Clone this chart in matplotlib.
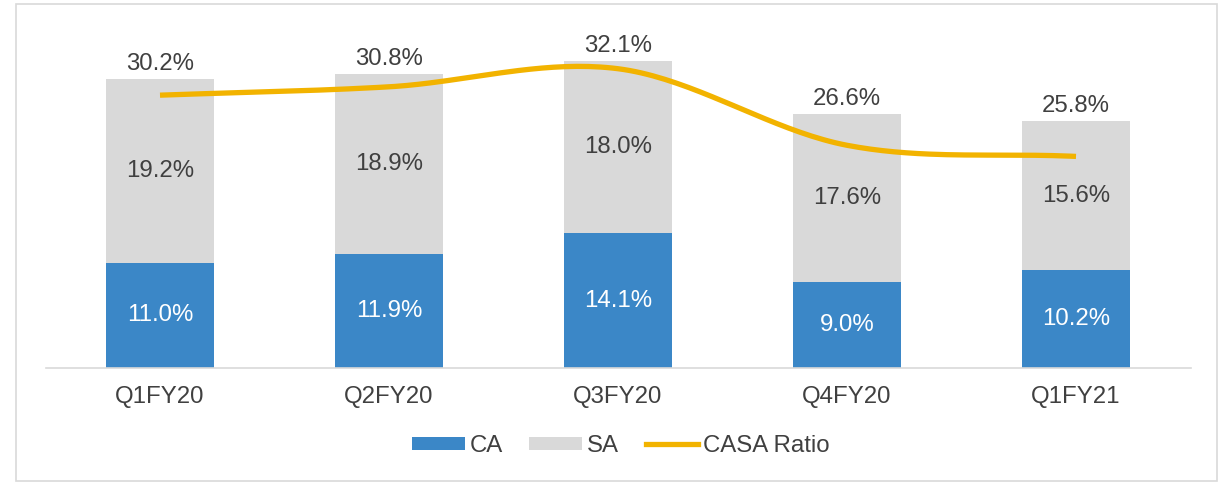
import matplotlib
matplotlib.use("Agg")
import matplotlib.pyplot as plt
import numpy as np
from matplotlib.patches import Rectangle, Patch
from matplotlib.lines import Line2D

categories = ["Q1FY20", "Q2FY20", "Q3FY20", "Q4FY20", "Q1FY21"]
ca = [11.0, 11.9, 14.1, 9.0, 10.2]
sa = [19.2, 18.9, 18.0, 17.6, 15.6]
casa = [30.2, 30.8, 32.1, 26.6, 25.8]

BLUE = "#3B87C7"
GRAY = "#D9D9D9"
GOLD = "#F2B300"
TXT = "#404040"

plt.rcParams["font.family"] = ["Liberation Sans", "DejaVu Sans"]
FS = 17.3

fig = plt.figure(figsize=(12.25, 4.83), dpi=100)
W, H = 1225, 483
# border
fig.patches.append(Rectangle((16 / W, 1 - 481 / H), (1217 - 16) / W, (481 - 4) / H,
                             transform=fig.transFigure, fill=False,
                             edgecolor="#D9D9D9", linewidth=1.2))

left, right, top, bottom = 45.5, 1190.5, 20, 368
ax = fig.add_axes([left / W, 1 - bottom / H, (right - left) / W, (bottom - top) / H])
x = np.arange(len(categories))
bw = 0.47
ax.bar(x, ca, bw, color=BLUE, zorder=2)
ax.bar(x, sa, bw, bottom=ca, color=GRAY, zorder=2)
ax.set_xlim(-0.5, len(categories) - 0.5)
ax.set_ylim(0, 36.4)
for s in ["top", "right", "left"]:
    ax.spines[s].set_visible(False)
ax.spines["bottom"].set_color("#D9D9D9")
ax.spines["bottom"].set_linewidth(1.2)
ax.set_yticks([])
ax.set_xticks(x)
ax.set_xticklabels(categories, fontsize=FS, color=TXT)
ax.tick_params(axis="x", length=0, pad=13)

for i in range(len(categories)):
    ax.text(x[i], ca[i] / 2, f"{ca[i]:.1f}%", ha="center", va="center",
            color="white", fontsize=FS, zorder=4)
    ax.text(x[i], ca[i] + sa[i] / 2, f"{sa[i]:.1f}%", ha="center", va="center",
            color=TXT, fontsize=FS, zorder=4)
    ax.annotate(f"{casa[i]:.1f}%", (x[i], ca[i] + sa[i]), xytext=(0, 15),
                textcoords="offset pixels", ha="center", va="center",
                color=TXT, fontsize=FS, zorder=4)

ax2 = ax.twinx()
ax2.set_ylim(10.6, 35.6)
ax2.axis("off")

# smooth (Catmull-Rom) curve through the CASA points
px = np.array(x, dtype=float)
py = np.array(casa, dtype=float)
P = np.column_stack([px, py])
P = np.vstack([P[0] - (P[1] - P[0]), P, P[-1] + (P[-1] - P[-2])])
xs, ys = [], []
t = np.linspace(0, 1, 40)
for k in range(1, len(P) - 2):
    p0, p1, p2, p3 = P[k - 1], P[k], P[k + 1], P[k + 2]
    c = 0.5 * (2 * p1[None, :] + (-p0 + p2)[None, :] * t[:, None]
               + (2 * p0 - 5 * p1 + 4 * p2 - p3)[None, :] * t[:, None] ** 2
               + (-p0 + 3 * p1 - 3 * p2 + p3)[None, :] * t[:, None] ** 3)
    xs.extend(c[:, 0]); ys.extend(c[:, 1])
ax2.plot(xs, ys, color=GOLD, linewidth=3.8, solid_capstyle="butt", zorder=3)

handles = [Patch(facecolor=BLUE, edgecolor="none", label="CA"),
           Patch(facecolor=GRAY, edgecolor="none", label="SA"),
           Line2D([], [], color=GOLD, linewidth=3.8, label="CASA Ratio")]
fig.legend(handles=handles, loc="center", bbox_to_anchor=(621 / W, 1 - 446 / H),
           ncol=3, frameon=False, fontsize=FS, labelcolor=TXT,
           handlelength=2.2, handleheight=0.45, handletextpad=0.2,
           columnspacing=1.1)

fig.savefig("out.png", dpi=100)
